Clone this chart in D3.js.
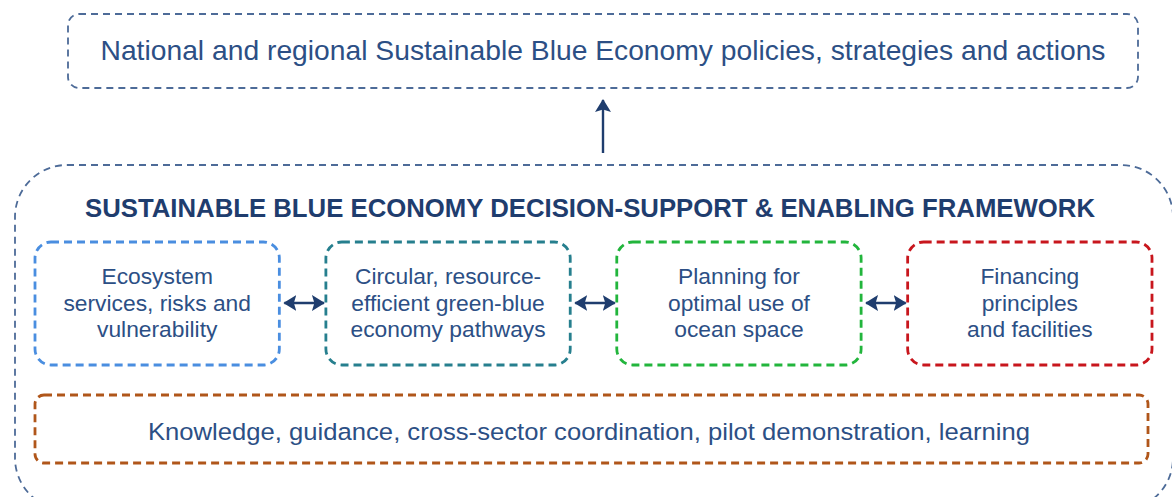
<!DOCTYPE html>
<html>
<head>
<meta charset="utf-8">
<script src="https://cdn.jsdelivr.net/npm/d3@7"></script>
<style>
  body { margin: 0; background: #fff; }
  text { font-family: "Liberation Sans", Arial, sans-serif; }
</style>
</head>
<body>
<script>
// diagram content
var topLabel = "National and regional Sustainable Blue Economy policies, strategies and actions";
var frameTitle = "SUSTAINABLE BLUE ECONOMY DECISION-SUPPORT & ENABLING FRAMEWORK";
var pillars = [
  ["Ecosystem", "services, risks and", "vulnerability"],
  ["Circular, resource-", "efficient green-blue", "economy pathways"],
  ["Planning for", "optimal use of", "ocean space"],
  ["Financing", "principles", "and facilities"]
];
var pillarColors = ["#4a8ee0", "#267f8e", "#22b53c", "#c8161d"];
var baseLabel = "Knowledge, guidance, cross-sector coordination, pilot demonstration, learning";

var W = 1172, H = 497;
var navy = "#1f3d6e", textBlue = "#2c4f85", frameGrey = "#4d6b98";

var svg = d3.select("body").
  append("svg").
  attr("width", W).
  attr("height", H);

var defs = svg.append("defs");
defs.append("marker")
  .attr("id", "head")
  .attr("viewBox", "0 0 13 16")
  .attr("refX", 12).attr("refY", 8)
  .attr("markerWidth", 13).attr("markerHeight", 16)
  .attr("markerUnits", "userSpaceOnUse")
  .attr("orient", "auto-start-reverse")
  .append("path")
  .attr("d", "M0,0L13,8L0,16L2.5,8Z")
  .attr("fill", navy);

// top box
svg.append("rect")
  .attr("x", 68).attr("y", 14).attr("width", 1070).attr("height", 74)
  .attr("rx", 11)
  .attr("fill", "none").attr("stroke", frameGrey)
  .attr("stroke-width", 1.8).attr("stroke-dasharray", "7,5");

svg.append("text")
  .attr("x", 603).attr("y", 60)
  .attr("text-anchor", "middle")
  .attr("font-size", 28)
  .attr("textLength", 1005)
  .attr("lengthAdjust", "spacingAndGlyphs")
  .attr("fill", textBlue)
  .text(topLabel);

// up arrow
svg.append("line")
  .attr("x1", 603).attr("y1", 153).attr("x2", 603).attr("y2", 100)
  .attr("stroke", navy).attr("stroke-width", 2.4)
  .attr("marker-end", "url(#head)");

// outer frame
svg.append("rect")
  .attr("x", 15).attr("y", 165).attr("width", 1158).attr("height", 345)
  .attr("rx", 52)
  .attr("fill", "none").attr("stroke", frameGrey)
  .attr("stroke-width", 1.8).attr("stroke-dasharray", "7,5");

svg.append("text")
  .attr("x", 590).attr("y", 217)
  .attr("text-anchor", "middle")
  .attr("font-size", 25)
  .attr("textLength", 1010)
  .attr("lengthAdjust", "spacingAndGlyphs")
  .attr("font-weight", "bold")
  .attr("fill", navy)
  .text(frameTitle);

// pillar boxes
var x = d3.scaleBand()
  .domain(d3.range(pillars.length))
  .range([35, 1152])
  .paddingInner(0.16);

var boxTop = 242, boxH = 123;

var box = svg.selectAll("g.pillar").data(pillars).enter()
  .append("g").attr("class", "pillar");

box.append("rect")
  .attr("x", function(d, i) { return x(i); })
  .attr("y", boxTop)
  .attr("width", x.bandwidth())
  .attr("height", boxH)
  .attr("rx", 16)
  .attr("fill", "none")
  .attr("stroke", function(d, i) { return pillarColors[i]; })
  .attr("stroke-width", 2.8)
  .attr("stroke-dasharray", "8,5");

box.append("text")
  .attr("text-anchor", "middle")
  .attr("font-size", 22.8)
  .attr("fill", textBlue)
  .selectAll("tspan").data(function(d, i) { return d.map(function(s) { return {s: s, i: i}; }); })
  .enter().append("tspan")
  .attr("x", function(d) { return x(d.i) + x.bandwidth() / 2; })
  .attr("y", function(d, j) { return boxTop + 42 + j * 26.5; })
  .text(function(d) { return d.s; });

// double arrows between pillars
svg.selectAll("line.link").data(d3.range(pillars.length - 1)).enter()
  .append("line")
  .attr("class", "link")
  .attr("x1", function(i) { return x(i) + x.bandwidth() + 5; })
  .attr("x2", function(i) { return x(i + 1) - 2; })
  .attr("y1", boxTop + 61).attr("y2", boxTop + 61)
  .attr("stroke", navy).attr("stroke-width", 2.6)
  .attr("marker-start", "url(#head)")
  .attr("marker-end", "url(#head)");

// base box
svg.append("rect")
  .attr("x", 35).attr("y", 395).attr("width", 1113).attr("height", 68)
  .attr("rx", 9)
  .attr("fill", "none").attr("stroke", "#b0561a")
  .attr("stroke-width", 2.8).attr("stroke-dasharray", "8,5");

svg.append("text")
  .attr("x", 589).attr("y", 440)
  .attr("text-anchor", "middle")
  .attr("font-size", 24.5)
  .attr("textLength", 882)
  .attr("lengthAdjust", "spacingAndGlyphs")
  .attr("fill", textBlue)
  .text(baseLabel);
</script>
</body>
</html>
